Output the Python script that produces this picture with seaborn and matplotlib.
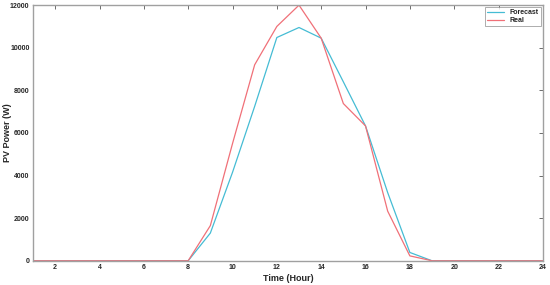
import pandas as pd
import matplotlib
matplotlib.use("Agg")
import matplotlib.pyplot as plt
import seaborn as sns

# hourly values
hours = list(range(1, 25))
forecast = [0, 0, 0, 0, 0, 0, 0, 0, 1300, 4150, 7250, 10480, 10950, 10450,
            8400, 6330, 3200, 390, 0, 0, 0, 0, 0, 0]
real = [0, 0, 0, 0, 0, 0, 0, 0, 1650, 5500, 9200, 11000, 12000, 10450,
        7380, 6330, 2330, 230, 0, 0, 0, 0, 0, 0]

df = pd.concat([
    pd.DataFrame({'Time': hours, 'Power': forecast, 'Series': 'Forecast'}),
    pd.DataFrame({'Time': hours, 'Power': real, 'Series': 'Real'}),
])

sns.set_style("white")
plt.rcParams['font.family'] = ['Arial', 'Liberation Sans', 'DejaVu Sans']

fig, ax = plt.subplots(figsize=(5.5, 2.85), dpi=100)
sns.lineplot(data=df, x='Time', y='Power', hue='Series',
             palette={'Forecast': '#45bcd4', 'Real': '#f07078'},
             linewidth=0.9, ax=ax)

ax.set_xlim(1, 24)
ax.set_ylim(0, 12000)
ax.set_xticks(range(2, 25, 2))
ax.set_yticks(range(0, 12001, 2000))
ax.tick_params(direction='in', length=3, width=0.6, labelsize=5,
               top=True, right=True, color='#555555', pad=2.5)
for lbl in ax.get_xticklabels() + ax.get_yticklabels():
    lbl.set_fontweight('bold')
for s in ax.spines.values():
    s.set_color('#a0a0a0')
    s.set_linewidth(1.0)

ax.set_xlabel('Time (Hour)', fontsize=6.5, fontweight='bold', labelpad=2)
ax.set_ylabel('PV Power (W)', fontsize=6.5, fontweight='bold')
ax.yaxis.set_label_coords(-0.042, 0.5)

leg = ax.legend(loc='upper right', frameon=True, fancybox=False,
                handlelength=2.5, borderpad=0.3, labelspacing=0.1,
                borderaxespad=0.3, prop={'weight': 'bold', 'size': 5})
leg.get_frame().set_edgecolor('#888888')
leg.get_frame().set_linewidth(0.6)

plt.subplots_adjust(left=0.06, right=0.987, top=0.982, bottom=0.085)
plt.savefig('out.png', dpi=100)
